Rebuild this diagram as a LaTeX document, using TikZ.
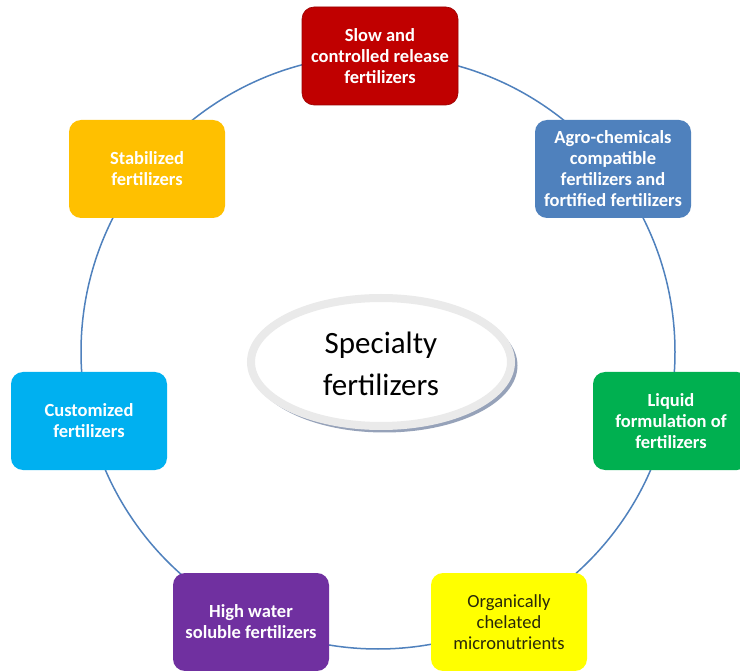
\documentclass[tikz,border=0pt]{standalone}
\usepackage{fontspec}
\setmainfont{Carlito}
\definecolor{ringblue}{RGB}{79,129,189}
\definecolor{cred}{RGB}{192,0,0}
\definecolor{cblue}{RGB}{79,129,189}
\definecolor{cgreen}{RGB}{0,176,80}
\definecolor{cyellow}{RGB}{255,255,0}
\definecolor{cpurple}{RGB}{112,48,160}
\definecolor{ccyan}{RGB}{0,176,240}
\definecolor{corange}{RGB}{255,192,0}
\definecolor{shadowc}{RGB}{150,162,185}
\definecolor{rimc}{RGB}{234,234,234}
\definecolor{ytext}{RGB}{40,40,10}
\begin{document}
\begin{tikzpicture}[x=1pt,y=-1pt,
  catbox/.style={rounded corners=12pt, minimum width=156pt, minimum height=98pt,
    inner sep=0pt, align=center, text=white,
    font=\fontsize{18.5}{21}\selectfont\bfseries},
  ring/.style={draw=ringblue, line width=1.5pt}]
\useasboundingbox (0,0) rectangle (740,671);
\fill[white] (0,0) rectangle (740,671);
\coordinate (c0) at (378,352);
\draw[ring] (c0) circle[radius=297];
% centre
\fill[shadowc] (384.5,365.5) ellipse[x radius=133, y radius=67];
\draw[rimc, line width=8pt, fill=white] (381,362) ellipse[x radius=130, y radius=64];
\node[font=\fontsize{31}{42}\selectfont, align=center] (ctr) at (381,364) {Specialty\\fertilizers};
% boxes
\node[catbox, fill=cred, draw=cred!80!black, line width=0.6pt] (slow) at (380,56) {Slow and\\controlled release\\fertilizers};
\node[catbox, fill=cblue] (agro) at (613,169) {Agro-chemicals\\compatible\\fertilizers and\\fortified fertilizers};
\node[catbox, fill=cgreen] (liquid) at (671,421) {Liquid\\formulation of\\fertilizers};
\node[catbox, fill=cyellow, text=ytext, font=\fontsize{18.5}{21}\selectfont] (organic) at (509,622) {Organically\\chelated\\micronutrients};
\node[catbox, fill=cpurple] (high) at (251,622) {High water\\soluble fertilizers};
\node[catbox, fill=ccyan] (custom) at (89,421) {Customized\\fertilizers};
\node[catbox, fill=corange] (stab) at (147,169) {Stabilized\\fertilizers};
\end{tikzpicture}
\end{document}
